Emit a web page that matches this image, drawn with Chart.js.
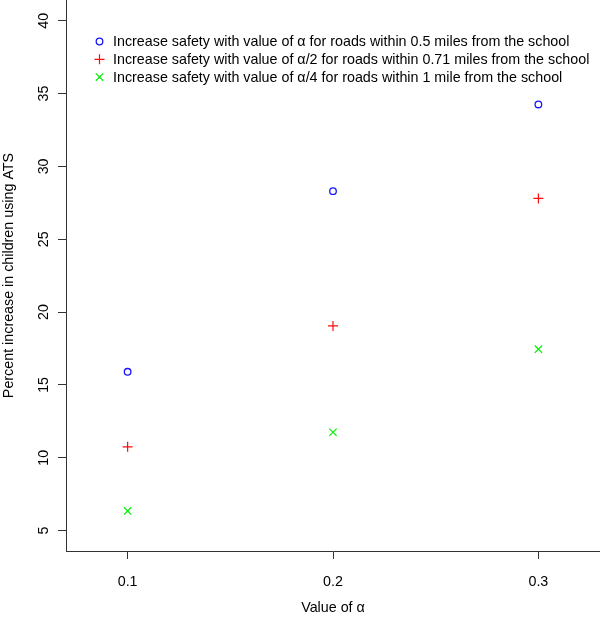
<!DOCTYPE html>
<html>
<head>
<meta charset="utf-8">
<script src="https://cdn.jsdelivr.net/npm/chart.js@4.4.1/dist/chart.umd.min.js"></script>
<style>
  body { margin: 0; background: #fff; }
  canvas { display: block; }
</style>
</head>
<body>
<canvas id="chart" width="600" height="617"></canvas>
<script>
const alphaValues = [0.1, 0.2, 0.3];
const within05 = [15.9, 28.3, 34.25];
const within071 = [10.75, 19.05, 27.8];
const within1 = [6.35, 11.75, 17.45];
const xTicks = [0.1, 0.2, 0.3];
const yTicks = [5, 10, 15, 20, 25, 30, 35, 40];
const seriesLabels = [
  "Increase safety with value of α for roads within 0.5 miles from the school",
  "Increase safety with value of α/2 for roads within 0.71 miles from the school",
  "Increase safety with value of α/4 for roads within 1 mile from the school",
];
const xTitle = "Value of α";
const yTitle = "Percent increase in children using ATS";

const FONT = '"Liberation Sans", Arial, Helvetica, sans-serif';
const INK = "#000";
const AXIS = "#333";

function pts(ys) {
  return alphaValues.map((x, i) => ({ x, y: ys[i] }));
}

// legend drawn inside the plot, top-left, like R's legend()
const insideLegend = {
  id: "insideLegend",
  afterDraw(chart) {
    const { ctx, chartArea } = chart;
    ctx.save();
    ctx.font = "14.3px " + FONT;
    ctx.textBaseline = "middle";
    chart.data.datasets.forEach((ds, i) => {
      const y = chartArea.top + 41.5 + i * 17.8;
      const x = chartArea.left + 33.5;
      ctx.strokeStyle = ds.borderColor;
      ctx.fillStyle = "rgba(0,0,0,0)";
      ctx.lineWidth = ds.borderWidth;
      Chart.helpers.drawPoint(ctx, {
        pointStyle: ds.pointStyle,
        radius: ds.pointRadius,
        borderWidth: ds.borderWidth,
        rotation: 0,
      }, x, y);
      ctx.fillStyle = INK;
      ctx.textAlign = "left";
      ctx.fillText(ds.label, x + 13.5, y + 0.5);
    });
    ctx.restore();
  }
};

// rotated y tick labels and axis titles, R style
const rLabels = {
  id: "rLabels",
  afterDraw(chart) {
    const { ctx, chartArea, scales } = chart;
    ctx.save();
    ctx.fillStyle = INK;
    ctx.font = "14.3px " + FONT;
    ctx.textAlign = "center";
    ctx.textBaseline = "middle";

    yTicks.forEach(v => {
      const py = scales.y.getPixelForValue(v);
      ctx.save();
      ctx.translate(44, py);
      ctx.rotate(-Math.PI / 2);
      ctx.fillText(String(v), 0, 0);
      ctx.restore();
    });

    xTicks.forEach(v => {
      ctx.fillText(v.toFixed(1), scales.x.getPixelForValue(v), 582);
    });

    ctx.fillText(xTitle, (chartArea.left + chartArea.right) / 2, 608);

    ctx.save();
    ctx.translate(9, (chartArea.top + chartArea.bottom) / 2);
    ctx.rotate(-Math.PI / 2);
    ctx.fillText(yTitle, 0, 0);
    ctx.restore();

    ctx.restore();
  }
};

new Chart(document.getElementById("chart"), {
  type: "scatter",
  data: {
    datasets: [
      {
        label: seriesLabels[0],
        data: pts(within05),
        pointStyle: "circle",
        pointRadius: 3.3,
        borderWidth: 1.3,
        borderColor: "#1515ff",
        backgroundColor: "rgba(0,0,0,0)",
      },
      {
        label: seriesLabels[1],
        data: pts(within071),
        pointStyle: "cross",
        pointRadius: 5,
        borderWidth: 1.2,
        borderColor: "#ff0d0d",
        backgroundColor: "rgba(0,0,0,0)",
      },
      {
        label: seriesLabels[2],
        data: pts(within1),
        pointStyle: "crossRot",
        pointRadius: 5.2,
        borderWidth: 1.2,
        borderColor: "#00f000",
        backgroundColor: "rgba(0,0,0,0)",
      },
    ]
  },
  options: {
    responsive: false,
    animation: false,
    devicePixelRatio: 1,
    layout: { padding: 0, autoPadding: false },
    plugins: {
      legend: { display: false },
      tooltip: { enabled: false },
    },
    elements: { point: { hoverRadius: 5 } },
    scales: {
      x: {
        type: "linear",
        min: 0.07,
        max: 0.33,
        afterBuildTicks: (s) => { s.ticks = xTicks.map(v => ({ value: v })); },
        afterFit: (s) => { s.height = 66; },
        ticks: { display: false },
        grid: { display: true, drawOnChartArea: false, drawTicks: true, tickLength: 8, color: AXIS, lineWidth: 1 },
        border: { display: true, color: AXIS, width: 1 },
      },
      y: {
        type: "linear",
        min: 3.6,
        max: 41.42,
        afterBuildTicks: (s) => { s.ticks = yTicks.map(v => ({ value: v })); },
        afterFit: (s) => { s.width = 66; },
        ticks: { display: false },
        grid: { display: true, drawOnChartArea: false, drawTicks: true, tickLength: 8, color: AXIS, lineWidth: 1 },
        border: { display: true, color: AXIS, width: 1 },
      }
    }
  },
  plugins: [insideLegend, rLabels]
});
</script>
</body>
</html>
